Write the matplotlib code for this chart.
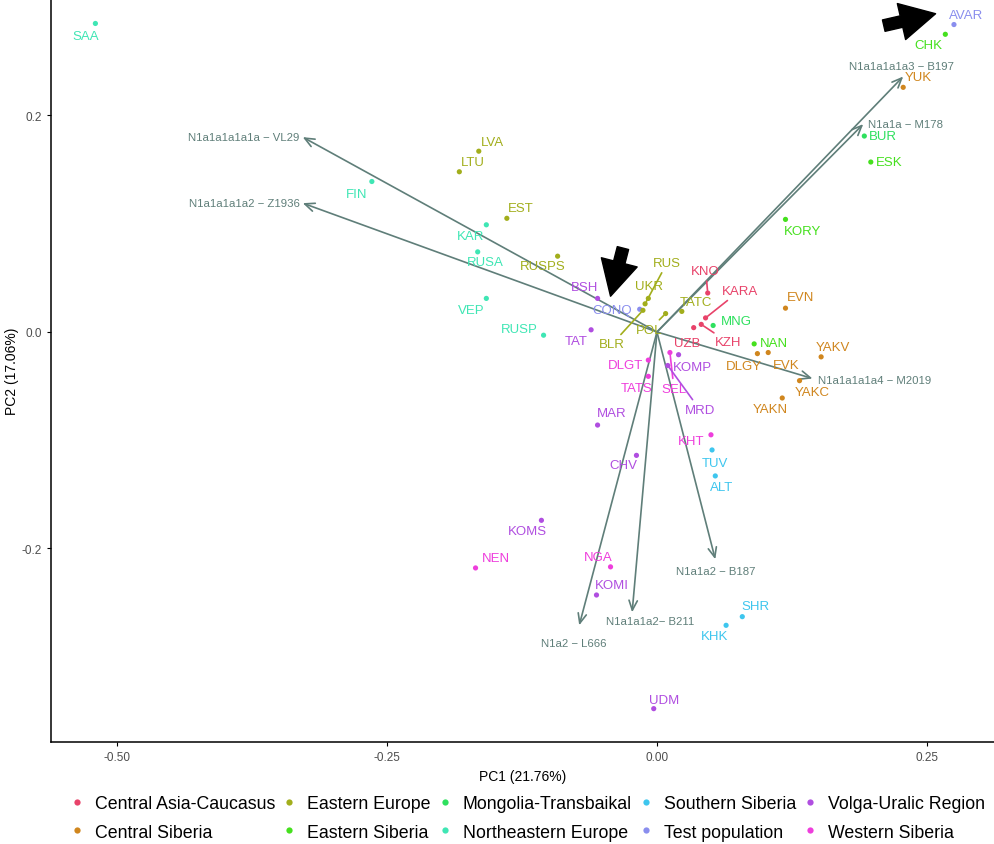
import matplotlib
matplotlib.use("Agg")
import matplotlib.pyplot as plt
from matplotlib.lines import Line2D

plt.rcParams['font.family'] = ['Liberation Sans', 'DejaVu Sans']

# groups and their colours
groups = ["Central Asia-Caucasus", "Central Siberia", "Eastern Europe", "Eastern Siberia",
          "Mongolia-Transbaikal", "Northeastern Europe", "Southern Siberia", "Test population",
          "Volga-Uralic Region", "Western Siberia"]
group_colours = ["#E8436A", "#D0861E", "#A2AE1C", "#45E01E", "#2EE05E", "#3FE6B4",
                 "#3EC6EE", "#8A8EEE", "#B04EE0", "#EE3EDC"]

# population scores
pops = ["SAA", "AVAR", "CHK", "YUK", "BUR", "ESK", "KORY", "LVA", "LTU", "FIN",
        "EST", "KAR", "RUSA", "RUSPS", "VEP", "RUSP", "TAT", "BSH", "CONQ", "UKR",
        "RUS", "BLR", "POL", "TATC", "KNO", "KARA", "MNG", "KZH", "UZB", "NAN",
        "DLGY", "EVK", "EVN", "YAKV", "YAKC", "YAKN", "DLGT", "TATS", "SEL", "KOMP",
        "MRD", "MAR", "CHV", "KHT", "TUV", "ALT", "KOMS", "NEN", "NGA", "KOMI",
        "SHR", "KHK", "UDM"]
pop_groups = ["Northeastern Europe", "Test population", "Eastern Siberia", "Central Siberia",
              "Mongolia-Transbaikal", "Eastern Siberia", "Eastern Siberia", "Eastern Europe",
              "Eastern Europe", "Northeastern Europe", "Eastern Europe", "Northeastern Europe",
              "Northeastern Europe", "Eastern Europe", "Northeastern Europe", "Northeastern Europe",
              "Volga-Uralic Region", "Volga-Uralic Region", "Test population", "Eastern Europe",
              "Eastern Europe", "Eastern Europe", "Eastern Europe", "Eastern Europe",
              "Central Asia-Caucasus", "Central Asia-Caucasus", "Mongolia-Transbaikal",
              "Central Asia-Caucasus", "Central Asia-Caucasus", "Eastern Siberia",
              "Central Siberia", "Central Siberia", "Central Siberia", "Central Siberia",
              "Central Siberia", "Central Siberia", "Western Siberia", "Western Siberia",
              "Western Siberia", "Volga-Uralic Region", "Volga-Uralic Region",
              "Volga-Uralic Region", "Volga-Uralic Region", "Western Siberia", "Southern Siberia",
              "Southern Siberia", "Volga-Uralic Region", "Western Siberia", "Western Siberia",
              "Volga-Uralic Region", "Southern Siberia", "Southern Siberia", "Volga-Uralic Region"]
pc1 = [-0.520, 0.275, 0.267, 0.228, 0.192, 0.198, 0.119, -0.165, -0.183, -0.264,
       -0.139, -0.158, -0.166, -0.092, -0.158, -0.105, -0.061, -0.055, -0.016, -0.008,
       -0.011, -0.013, 0.008, 0.023, 0.047, 0.045, 0.052, 0.041, 0.034, 0.090,
       0.093, 0.103, 0.119, 0.152, 0.132, 0.116, -0.008, -0.008, 0.012, 0.020,
       0.010, -0.055, -0.019, 0.050, 0.051, 0.054, -0.107, -0.168, -0.043, -0.056,
       0.079, 0.064, -0.003]
pc2 = [0.285, 0.284, 0.275, 0.226, 0.181, 0.157, 0.104, 0.167, 0.148, 0.139,
       0.105, 0.099, 0.074, 0.070, 0.031, -0.003, 0.002, 0.031, 0.021, 0.031,
       0.026, 0.020, 0.017, 0.019, 0.036, 0.013, 0.006, 0.007, 0.004, -0.011,
       -0.020, -0.019, 0.022, -0.023, -0.045, -0.061, -0.026, -0.041, -0.019, -0.021,
       -0.031, -0.086, -0.114, -0.095, -0.109, -0.133, -0.174, -0.218, -0.217, -0.243,
       -0.263, -0.271, -0.348]

# haplogroup loadings
haplos = ["N1a1a1a1a1a \u2212 VL29", "N1a1a1a1a2 \u2212 Z1936", "N1a1a1a1a3 \u2212 B197",
          "N1a1a \u2212 M178", "N1a1a1a1a4 \u2212 M2019", "N1a1a2 \u2212 B187",
          "N1a1a1a2\u2212 B211", "N1a2 \u2212 L666"]
load1 = [-0.328, -0.328, 0.228, 0.191, 0.144, 0.054, -0.023, -0.072]
load2 = [0.180, 0.119, 0.236, 0.192, -0.043, -0.210, -0.259, -0.271]

# label placement (pixel offsets from the point) and which labels get a leader line
label_offsets = {
    "SAA": (-10, -13), "AVAR": (12, 10), "CHK": (-17, -11), "YUK": (15, 10),
    "BUR": (19, 0), "ESK": (18, 0), "KORY": (17, -12), "LVA": (14, 9), "LTU": (13, 10),
    "FIN": (-15, -12), "EST": (14, 10), "KAR": (-16, -11), "RUSA": (8, -10),
    "RUSPS": (-15, -10), "VEP": (-15, -12), "RUSP": (-24, 6), "TAT": (-15, -11),
    "BSH": (-13, 11), "CONQ": (-28, -1), "UKR": (1, 12), "RUS": (22, 41),
    "BLR": (-31, -34), "POL": (-16, -16), "TATC": (14, 9), "KNO": (-2, 22),
    "KARA": (34, 27), "MNG": (23, 4), "KZH": (27, -18), "UZB": (-7, -15),
    "NAN": (20, 1), "DLGY": (-14, -12), "EVK": (18, -12), "EVN": (15, 11),
    "YAKV": (12, 10), "YAKC": (13, -11), "YAKN": (-12, -11), "DLGT": (-23, -5),
    "TATS": (-12, -12), "SEL": (4, -36), "KOMP": (14, -12), "MRD": (32, -44),
    "MAR": (14, 12), "CHV": (-13, -10), "KHT": (-20, -6), "TUV": (3, -13),
    "ALT": (6, -11), "KOMS": (-14, -11), "NEN": (20, 10), "NGA": (-12, 10),
    "KOMI": (15, 10), "SHR": (13, 11), "KHK": (-12, -11), "UDM": (10, 9),
}
leader = ["RUS", "BLR", "POL", "KNO", "KARA", "KZH", "SEL", "MRD"]
haplo_offsets = [(-3, 0, "right"), (-3, 0, "right"), (-2, 11, "center"), (5, 0, "left"),
                 (6, -1, "left"), (0, -12, "center"), (18, -9, "center"), (-5, -18, "center")]

arrow_col = "#5F7E79"
colour_of = dict(zip(groups, group_colours))

fig = plt.figure(figsize=(9.95, 8.45), dpi=100)
ax = fig.add_axes([51 / 995, 1 - 743 / 845, 944 / 995, 743 / 845])

# loading arrows
for name, lx, ly, (dx, dy, ha) in zip(haplos, load1, load2, haplo_offsets):
    ax.annotate("", xy=(lx, ly), xytext=(0, 0),
                arrowprops=dict(arrowstyle="->,head_length=0.7,head_width=0.3",
                                color=arrow_col, lw=1.2, shrinkA=0, shrinkB=0))
    ax.annotate(name, (lx, ly), xytext=(dx, dy), textcoords="offset pixels",
                ha=ha, va="center", fontsize=8.2, color=arrow_col)

# points
cols = [colour_of[g] for g in pop_groups]
ax.scatter(pc1, pc2, s=14, c=cols, edgecolors="none", zorder=3)

for name, x, y, c in zip(pops, pc1, pc2, cols):
    dx, dy = label_offsets[name]
    props = None
    if name in leader:
        props = dict(arrowstyle="-", color=c, lw=1.2, shrinkA=1, shrinkB=2)
    ax.annotate(name, (x, y), xytext=(dx, dy), textcoords="offset pixels",
                ha="center", va="center", fontsize=9.5, color=c, arrowprops=props, zorder=4)

# black pointer arrows
for tail, tip in [((0.210, 0.283), (0.258, 0.294)), ((-0.0315, 0.0775), (-0.0430, 0.0330))]:
    ax.annotate("", xy=tip, xytext=tail,
                arrowprops=dict(arrowstyle="simple,head_length=0.9,head_width=0.95,tail_width=0.3",
                                color="black", mutation_scale=28, shrinkA=0, shrinkB=0))

ax.set_xlim(-0.5611, 0.3130)
ax.set_ylim(-0.3788, 0.3076)
ax.set_xticks([-0.50, -0.25, 0.00, 0.25])
ax.set_xticklabels(["-0.50", "-0.25", "0.00", "0.25"])
ax.set_yticks([-0.2, 0.0, 0.2])
ax.set_yticklabels(["-0.2", "0.0", "0.2"])
ax.tick_params(labelsize=8.5, labelcolor="#4D4D4D", length=3, width=0.8)
for s in ["top", "right"]:
    ax.spines[s].set_visible(False)
for s in ["left", "bottom"]:
    ax.spines[s].set_linewidth(1.1)
ax.set_xlabel("PC1 (21.76%)", fontsize=10)
ax.set_ylabel("PC2 (17.06%)", fontsize=10, labelpad=2)

handles = [Line2D([0], [0], marker="o", ls="none", markersize=4.5, color=c,
                  markeredgewidth=0) for c in group_colours]
fig.legend(handles, groups, ncol=5, loc="center", bbox_to_anchor=(0.530, 0.031),
           frameon=False, fontsize=12.8, handlelength=0.8, handletextpad=0.6,
           columnspacing=0.4, labelspacing=0.66)

fig.savefig("out.png", dpi=100)
